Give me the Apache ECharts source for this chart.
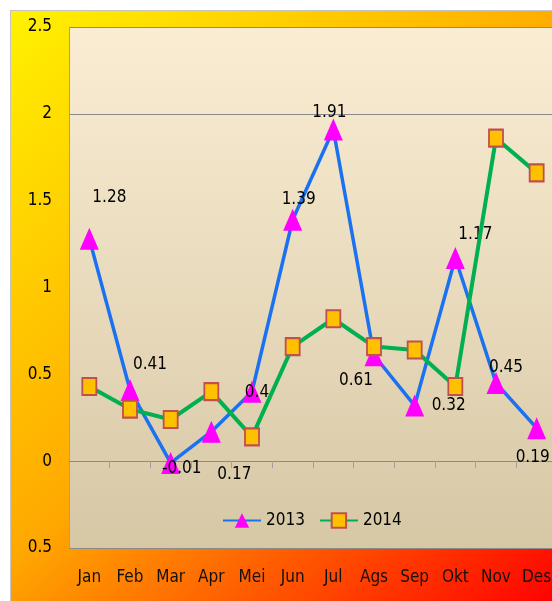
<!DOCTYPE html>
<html>
<head>
<meta charset="utf-8">
<script src="https://cdn.jsdelivr.net/npm/echarts@6/dist/echarts.min.js"></script>
<style>
  html, body { margin: 0; padding: 0; background: #fff; overflow: hidden; }
  #frame { position: absolute; left: 10px; top: 10px; width: 560px; height: 600px;
           border-left: 1px solid #c4c4c4; border-top: 1px solid #c4c4c4; }
  #chart { position: absolute; left: 0; top: 0; width: 550px; height: 590px; }
</style>
</head>
<body>
<div id="frame"><div id="chart"></div></div>
<script>
// data
const months = ['Jan', 'Feb', 'Mar', 'Apr', 'Mei', 'Jun', 'Jul', 'Ags', 'Sep', 'Okt', 'Nov', 'Des'];
const data2013 = [1.28, 0.41, -0.01, 0.17, 0.4, 1.39, 1.91, 0.61, 0.32, 1.17, 0.45, 0.19];
const data2014 = [0.43, 0.30, 0.24, 0.40, 0.14, 0.66, 0.82, 0.66, 0.64, 0.43, 1.86, 1.66];
const yTicks = { min: -0.5, max: 2.5, step: 0.5 };

// where each 2013 label sits relative to its point (moved by hand in the original)
const labelShift = [[20, -41], [20, -25], [11, 6], [23, 43], [5, 1], [6, -20],
                    [-4, -17], [-18, 25], [34, 0], [20, -23], [10, -15], [-4, 29]];

const font = "'DejaVu Sans Condensed', 'Liberation Sans Narrow', sans-serif";
const fs = 17;
const grey = '#8a8a8a';

const chart = echarts.init(document.getElementById('chart'));
chart.setOption({
  animation: false,
  backgroundColor: {
    type: 'linear', x: 0, y: 0, x2: 1, y2: 1,
    colorStops: [
      { offset: 0, color: '#fff200' },
      { offset: 0.5, color: '#ffa800' },
      { offset: 1, color: '#ff0000' }
    ]
  },
  grid: {
    left: 58, top: 16, right: 4, bottom: 53,
    show: true, borderWidth: 0,
    backgroundColor: {
      type: 'linear', x: 0, y: 0, x2: 0, y2: 1,
      colorStops: [
        { offset: 0, color: '#fbedd3' },
        { offset: 1, color: '#d6c8a5' }
      ]
    }
  },
  legend: {
    left: 206, top: 496,
    itemWidth: 38, itemHeight: 18, itemGap: 14,
    textStyle: { fontFamily: font, fontSize: fs, color: '#000' },
    data: ['2013', '2014']
  },
  xAxis: [
    {
      type: 'category', data: months, position: 'bottom',
      axisLine: { show: false, onZero: false },
      axisTick: { show: false },
      axisLabel: { interval: 0, margin: 21, fontFamily: font, fontSize: fs, color: '#111' }
    },
    {
      type: 'category', data: months, position: 'top',
      axisLine: { show: true, onZero: true, lineStyle: { color: grey, width: 1 } },
      axisTick: { show: true, inside: true, interval: 0, length: 7, lineStyle: { color: '#a0a0a0' } },
      axisLabel: { show: false }
    }
  ],
  yAxis: {
    type: 'value', min: yTicks.min, max: yTicks.max, interval: yTicks.step,
    axisLine: { show: true, lineStyle: { color: '#a0a0a0' } },
    axisTick: { show: false },
    axisLabel: {
      margin: 17, fontFamily: font, fontSize: fs, color: '#000',
      formatter: v => String(Math.abs(v))
    },
    splitLine: {
      show: true,
      lineStyle: { color: [grey, grey, 'rgba(0,0,0,0)', 'rgba(0,0,0,0)', 'rgba(0,0,0,0)', grey, grey] }
    }
  },
  series: [
    {
      name: '2013', type: 'line', z: 2,
      data: data2013.map((v, i) => ({
        value: v,
        label: { offset: labelShift[i] }
      })),
      symbol: 'triangle', symbolSize: [19, 22],
      lineStyle: { color: '#1a72f2', width: 3.5 },
      itemStyle: { color: '#ff00ff' },
      label: {
        show: true, position: 'inside',
        fontFamily: font, fontSize: fs, color: '#000'
      }
    },
    {
      name: '2014', type: 'line', z: 3,
      data: data2014,
      symbol: 'rect', symbolSize: [14, 17],
      lineStyle: { color: '#00b050', width: 4 },
      itemStyle: { color: '#ffc000', borderColor: '#c0504d', borderWidth: 2 }
    }
  ]
});
</script>
</body>
</html>
